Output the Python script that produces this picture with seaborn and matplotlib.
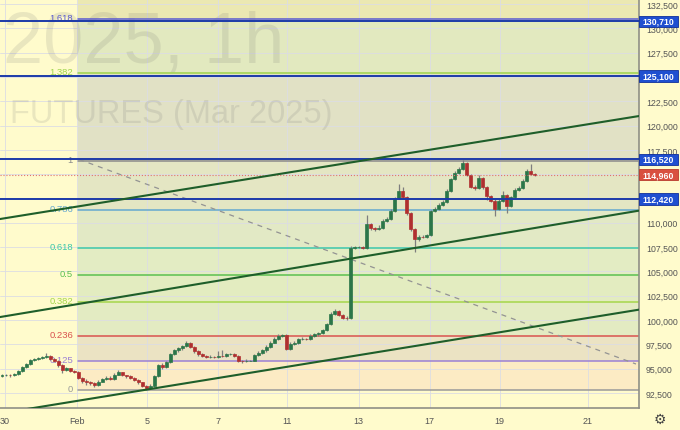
import numpy as np
import pandas as pd
import matplotlib.pyplot as plt
import matplotlib.transforms as mtransforms
from matplotlib.patches import Rectangle
import seaborn as sns

# hourly candles (x = bar index)
closes = [94300, 94350, 94300, 94450, 94760, 95170, 95480, 95890, 95990, 96050,
          96200, 96300, 95990, 95790, 95380, 94860, 95020, 94810, 94660, 94040,
          93730, 93630, 93530, 93320, 93680, 93940, 94090, 93940, 94400, 94610,
          94300, 94200, 94040, 93830, 93580, 93220, 93010, 93270, 94250, 95380,
          95170, 95640, 96510, 96870, 97080, 97330, 97640, 97230, 96770, 96510,
          96300, 96200, 96250, 96200, 96350, 96300, 96510, 96510, 96300, 95790,
          95740, 95840, 95840, 96410, 96660, 96870, 97280, 97690, 98100, 98410,
          98460, 97070, 97540, 97640, 98050, 98100, 98050, 98410, 98520, 98670,
          98930, 99590, 100620, 100930, 100520, 100260, 100210, 107460, 107510, 107510,
          107460, 109880, 109470, 109360, 109470, 110190, 110390, 111210, 112550, 113270,
          112650, 111010, 109360, 108340, 108590, 108540, 108750, 111210, 111420, 111830,
          112140, 113270, 114500, 115120, 115530, 116150, 114920, 113680, 113580, 114610,
          113680, 112760, 112290, 111420, 112240, 112860, 111730, 112650, 113420, 113630,
          114300, 115330, 115020, 114960]
highs = [94450, 94500, 94450, 94600, 94900, 95300, 95600, 96000, 96100, 96200,
         96350, 96600, 96450, 96100, 95900, 95450, 95150, 95100, 94900, 94750,
         94150, 93900, 93750, 93650, 93800, 94050, 94250, 94200, 94550, 94850,
         94700, 94400, 94300, 94150, 93900, 93650, 93300, 93400, 94400, 95500,
         95600, 95800, 96650, 97000, 97200, 97450, 97850, 97750, 97350, 96900,
         96650, 96450, 96400, 96350, 96800, 96900, 96650, 96650, 96600, 96400,
         95900, 95950, 95900, 96550, 96800, 97000, 97400, 97850, 98250, 98550,
         98600, 98550, 97700, 97800, 98200, 98250, 98200, 98550, 98650, 98800,
         99050, 99700, 100800, 101100, 101050, 100650, 100400, 107650, 107650, 107600,
         107600, 110800, 110000, 109600, 109800, 110350, 110550, 111400, 112700, 114000,
         113700, 112800, 111150, 109500, 108750, 108700, 108900, 111350, 111600, 112000,
         112350, 113450, 114650, 115300, 115700, 116450, 116300, 115050, 113900, 114900,
         114750, 113800, 112900, 112400, 112400, 113300, 113000, 112800, 113550, 113800,
         114500, 115500, 116050, 115150]
lows = [94100, 94200, 94150, 94200, 94350, 94650, 95050, 95400, 95800, 95900,
        95950, 96100, 95850, 95650, 95200, 94550, 94750, 94700, 94550, 93900,
        93550, 93300, 93350, 93150, 93200, 93600, 93850, 93800, 93850, 94300,
        94200, 94050, 93900, 93700, 93400, 93100, 92850, 92990, 93150, 94150,
        95000, 95050, 95550, 96400, 96750, 96950, 97200, 97100, 96650, 96350,
        96150, 96050, 96050, 96050, 96100, 96150, 96200, 96400, 96150, 95650,
        95600, 95700, 95780, 95750, 96300, 96550, 96750, 97150, 97600, 98000,
        98300, 96900, 96950, 97400, 97550, 97950, 97900, 97950, 98300, 98400,
        98550, 98850, 99500, 100500, 100400, 100100, 100050, 100100, 107350, 107400,
        107300, 107350, 109300, 109200, 109250, 109350, 110050, 110300, 111100, 112450,
        112500, 110850, 109200, 107000, 108100, 108400, 108400, 108650, 111100, 111300,
        111700, 112050, 113150, 114400, 115000, 115400, 114800, 113550, 113350, 113450,
        113500, 112300, 112100, 110750, 111300, 112100, 111000, 111600, 112550, 113300,
        113500, 114200, 114900, 114850]
first_open = 94200

# fibonacci retracement
fib_low = 92850
fib_high = 116400
fib_start = 19
fib_levels = [0, 0.125, 0.236, 0.382, 0.5, 0.618, 0.786, 1, 1.382, 1.618]
fib_labels = ['0', '0.125', '0.236', '0.382', '0.5', '0.618', '0.786', '1', '1.382', '1.618']
fib_colors = ['#9a9a9a', '#9b7fd4', '#d9534f', '#a5d64a', '#5cc050', '#3cc8a8',
              '#64a8d0', '#8a8a8a', '#9fd44a', '#5a5ad0']
zone_colors = ['#fcebc4', '#ebe3c3', '#e3ebc2', '#e3ecc0', '#e3ecc3', '#e2e9c5',
               '#e4e6c3', '#e1e1c5', '#e2e9bf', '#ebe8b2']

# horizontal levels and last price
level_lines = [130710, 125100, 116520, 112420]
last_price = 114960

# parallel channel + dashed diagonal
channel_x = [-0.5, 159]
channel_top = [110390, 120980]
channel_mid = [100310, 111250]
channel_low = [90400, 101070]
diag_x = [19.25, 158.25]
diag_y = [116520, 95480]

date_pos = [0.75, 18.75, 36.25, 54, 71.25, 89, 106.75, 124.25, 146.25]
date_labels = ['30', 'Feb', '5', '7', '11', '13', '17', '19', '21']
price_ticks = list(range(92500, 135000, 2500))

sns.set_style("white")
plt.rcParams['font.family'] = ['Liberation Sans', 'DejaVu Sans']

bg = '#fffbcc'
fig = plt.figure(figsize=(6.8, 4.31), dpi=100, facecolor=bg)
ax = fig.add_axes([0, 22 / 431, 639 / 680, 409 / 431])
ax.set_facecolor(bg)
ax.set_xlim(-0.5, 159)
ax.set_ylim(90957, 133014)

# fib zones and lines
fib_prices = [fib_low + f * (fib_high - fib_low) for f in fib_levels]
zone_edges = fib_prices + [133014]
for i, col in enumerate(zone_colors):
    ax.fill_between([fib_start, 159], zone_edges[i], zone_edges[i + 1],
                    color=col, lw=0, zorder=0.2)
for p, lab, col in zip(fib_prices, fib_labels, fib_colors):
    ax.plot([fib_start, 159], [p, p], color=col, lw=1.1, zorder=1)
    ax.text(fib_start - 1.3, p + 150, lab, ha='right', va='center',
            color=col, fontsize=6.8, zorder=1)

# watermark
ax.text(3 / 639, 0.846, '2025, 1h', transform=ax.transAxes, fontsize=52,
        color='#6e6e6e', alpha=0.15, va='baseline', ha='left', zorder=0.6)
ax.text(10 / 639, 0.699, 'FUTURES (Mar 2025)', transform=ax.transAxes, fontsize=23.5,
        color='#6e6e6e', alpha=0.15, va='baseline', ha='left', zorder=0.6)

# candles
x = np.arange(len(closes))
df = pd.DataFrame({'x': x, 'open': [first_open] + closes[:-1], 'close': closes,
                   'high': highs, 'low': lows})
df['up'] = df['close'] >= df['open']
colors = np.where(df['up'], '#2b7649', '#b02f2f')
ax.vlines(df['x'], df['low'], df['high'], color='#7e7e7e', lw=0.9, zorder=3)
ax.bar(df['x'], df['close'] - df['open'], bottom=df['open'], width=0.74,
       color=colors, edgecolor=colors, lw=0.5, zorder=3.2)

# channel lines
for ys in (channel_top, channel_mid, channel_low):
    sns.lineplot(x=channel_x, y=ys, ax=ax, color='#1e5e2a', lw=1.5, zorder=4.5)
ax.plot(diag_x, diag_y, color='#939393', lw=0.9, ls=(0, (4, 4)), zorder=2)

# level lines
for lv in level_lines:
    ax.axhline(lv, color='#1c3aa9', lw=1.4, zorder=4)
ax.axhline(last_price, color='#e07070', lw=0.8, ls=':', zorder=4)

# axes styling; labels hidden fully behind a price tag are left out
ax.grid(True, color='#dcdde3', lw=0.6)
ax.set_axisbelow(True)
ax.yaxis.tick_right()
ax.set_yticks(price_ticks)
tag_prices = level_lines + [last_price]
ax.set_yticklabels(['' if any(abs(t - p) < 400 for p in tag_prices) else f'{t:,}'
                    for t in price_ticks])
ax.set_xticks(date_pos)
ax.set_xticklabels(date_labels)
ax.tick_params(axis='y', length=0, pad=5, labelsize=6.3, labelcolor='#555555')
ax.tick_params(axis='x', length=0, pad=6, labelsize=6.5, labelcolor='#555555')
for s in ('top', 'left'):
    ax.spines[s].set_visible(False)
for s in ('right', 'bottom'):
    ax.spines[s].set_color('#8f8f86')
    ax.spines[s].set_linewidth(1.2)

# price tags on the right axis
trans = mtransforms.blended_transform_factory(ax.transAxes, ax.transData)
tags = [(lv, '#1f4fd0', '#10309a') for lv in level_lines] + [(last_price, '#d9503f', '#b83a2c')]
for price, fc, ec in tags:
    ax.add_patch(Rectangle((1.0, price - 600), 39 / 639, 1200, transform=trans,
                           fc=fc, ec=ec, lw=0.6, clip_on=False, zorder=5))
    ax.text(1 + 19.5 / 639, price, f'{price:,}', transform=trans, ha='center',
            va='center', color='white', fontsize=6.3, fontweight='bold',
            clip_on=False, zorder=6)

fig.text(660 / 680, 1 - 420 / 431, '\u2699', ha='center', va='center',
         fontsize=10, color='#444444', family='DejaVu Sans')

fig.savefig('out.png', dpi=100, facecolor=bg)
